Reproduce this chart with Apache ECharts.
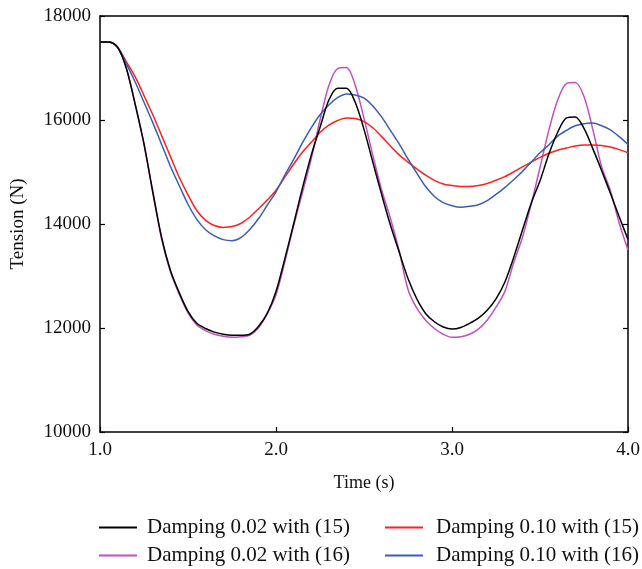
<!DOCTYPE html>
<html>
<head>
<meta charset="utf-8">
<script src="https://cdn.jsdelivr.net/npm/echarts@6/dist/echarts.min.js"></script>
<style>
  html, body { margin: 0; padding: 0; background: #fff; }
  #chart { width: 642px; height: 569px; }
</style>
</head>
<body>
<div id="chart"></div>
<script>
// time samples (s)
const timeS = [];
for (let i = 0; i <= 60; i++) timeS.push(+(1 + i * 0.05).toFixed(2));

// tension (N)
const damp002eq15 = [
  17500, 17500, 17400, 16990, 16300, 15540, 14620, 13740, 13110, 12680,
  12320, 12090, 11990, 11920, 11880, 11860, 11860, 11880, 12030, 12280,
  12700, 13330, 14000, 14690, 15320, 15857, 16380, 16610, 16610, 16340,
  15820, 15190, 14570, 13980, 13460, 12950, 12560, 12280, 12120, 12020,
  11980, 12010, 12090, 12190, 12340, 12560, 12880, 13350, 13880, 14400,
  14830, 15340, 15760, 16040, 16060, 15840, 15450, 15030, 14590, 14140,
  13700
];
const damp002eq16 = [
  17500, 17500, 17400, 16990, 16300, 15530, 14600, 13720, 13080, 12650,
  12290, 12060, 11950, 11880, 11840, 11820, 11830, 11860, 12000, 12270,
  12640, 13270, 13960, 14600, 15250, 16000, 16660, 16990, 17010, 16670,
  16030, 15320, 14660, 14110, 13480, 12740, 12380, 12150, 11990, 11880,
  11820, 11830, 11880, 11980, 12150, 12400, 12700, 13250, 13740, 14380,
  15087, 15800, 16380, 16700, 16720, 16450, 15820, 15100, 14640, 14020,
  13500
];
const damp010eq15 = [
  17500, 17500, 17400, 17120, 16830, 16470, 16100, 15700, 15300, 14900,
  14560, 14260, 14070, 13970, 13935, 13950, 14010, 14130, 14290, 14460,
  14650, 14900, 15150, 15380, 15570, 15760, 15900, 15990, 16040, 16030,
  15970, 15850, 15680, 15500, 15330, 15190, 15060, 14940, 14840, 14770,
  14740, 14720, 14720, 14740, 14780, 14840, 14910, 15000, 15100, 15190,
  15280, 15360, 15420, 15460, 15500, 15520, 15520, 15510, 15480, 15430,
  15370
];
const damp010eq16 = [
  17500, 17500, 17390, 17080, 16730, 16340, 15950, 15530, 15110, 14740,
  14380, 14090, 13890, 13770, 13700, 13680, 13740, 13890, 14100, 14360,
  14620, 14940, 15240, 15560, 15850, 16100, 16290, 16430, 16500, 16480,
  16420, 16270, 16060, 15800, 15540, 15250, 14980, 14720, 14530, 14410,
  14350, 14320, 14340, 14370, 14450, 14570, 14700, 14850, 15010, 15190,
  15370, 15520, 15690, 15800, 15890, 15930, 15940, 15890, 15810, 15680,
  15530
];

const seriesNames = [
  "Damping 0.02 with (15)",
  "Damping 0.02 with (16)",
  "Damping 0.10 with (15)",
  "Damping 0.10 with (16)",
];
const seriesValues = [damp002eq15, damp002eq16, damp010eq15, damp010eq16];
const seriesColors = ["#000000", "#c150c0", "#ff1f1f", "#3a5db5"];

const fontFam = "'Liberation Serif', 'DejaVu Serif', serif";
const chart = echarts.init(document.getElementById("chart"));

const series = seriesNames.map((name, k) => ({
  name: name,
  type: "line",
  smooth: 0.3,
  symbol: "none",
  data: timeS.map((t, i) => [t, seriesValues[k][i]]),
  lineStyle: { color: seriesColors[k], width: 1.5 },
  itemStyle: { color: seriesColors[k] },
  z: k === 0 ? 5 : 3,
}));

function makeLegend(left, names, textPad) {
  return {
    orient: "vertical",
    left: left,
    top: 517,
    height: 60,
    padding: 0,
    itemWidth: 38,
    itemHeight: 2,
    itemGap: 7,
    icon: "rect",
    data: names,
    textStyle: {
      fontFamily: fontFam, fontSize: 21, color: "#111", lineHeight: 20,
      padding: [0, 0, 0, textPad],
    },
  };
}

chart.setOption({
  animation: false,
  backgroundColor: "#fff",
  grid: {
    left: 100, right: 14, top: 16, bottom: 137,
    containLabel: false, outerBoundsMode: "none",
  },
  legend: [
    makeLegend(99, [seriesNames[0], seriesNames[1]], 5),
    makeLegend(385, [seriesNames[2], seriesNames[3]], 8),
  ],
  xAxis: [
    {
      type: "value",
      min: 1,
      max: 4,
      interval: 1,
      name: "Time (s)",
      nameLocation: "middle",
      nameGap: 42,
      nameTextStyle: { fontFamily: fontFam, fontSize: 18, color: "#111" },
      axisLine: { lineStyle: { color: "#000", width: 1.5 } },
      axisTick: { inside: true, length: 5, lineStyle: { color: "#000", width: 1.2 } },
      axisLabel: {
        fontFamily: fontFam, fontSize: 19, color: "#111", margin: 9,
        formatter: (v) => v.toFixed(1),
      },
      splitLine: { show: false },
    },
    {
      type: "value",
      position: "top",
      min: 1,
      max: 4,
      interval: 1,
      axisLine: { show: true, lineStyle: { color: "#000", width: 1.5 } },
      axisTick: { show: false },
      axisLabel: { show: false },
      splitLine: { show: false },
    },
  ],
  yAxis: [
    {
      type: "value",
      min: 10000,
      max: 18000,
      interval: 2000,
      name: "Tension (N)",
      nameLocation: "middle",
      nameGap: 72,
      nameTextStyle: { fontFamily: fontFam, fontSize: 19, color: "#111" },
      axisLine: { show: true, lineStyle: { color: "#000", width: 1.5 } },
      axisTick: { show: true, inside: true, length: 5, lineStyle: { color: "#000", width: 1.2 } },
      axisLabel: {
        fontFamily: fontFam, fontSize: 19, color: "#111", margin: 9,
        formatter: (v) => String(v),
      },
      splitLine: { show: false },
    },
    {
      type: "value",
      position: "right",
      min: 10000,
      max: 18000,
      interval: 2000,
      axisLine: { show: true, lineStyle: { color: "#000", width: 1.5 } },
      axisTick: { show: true, inside: true, length: 5, lineStyle: { color: "#000", width: 1.2 } },
      axisLabel: { show: false },
      splitLine: { show: false },
    },
  ],
  series: series,
});
</script>
</body>
</html>
